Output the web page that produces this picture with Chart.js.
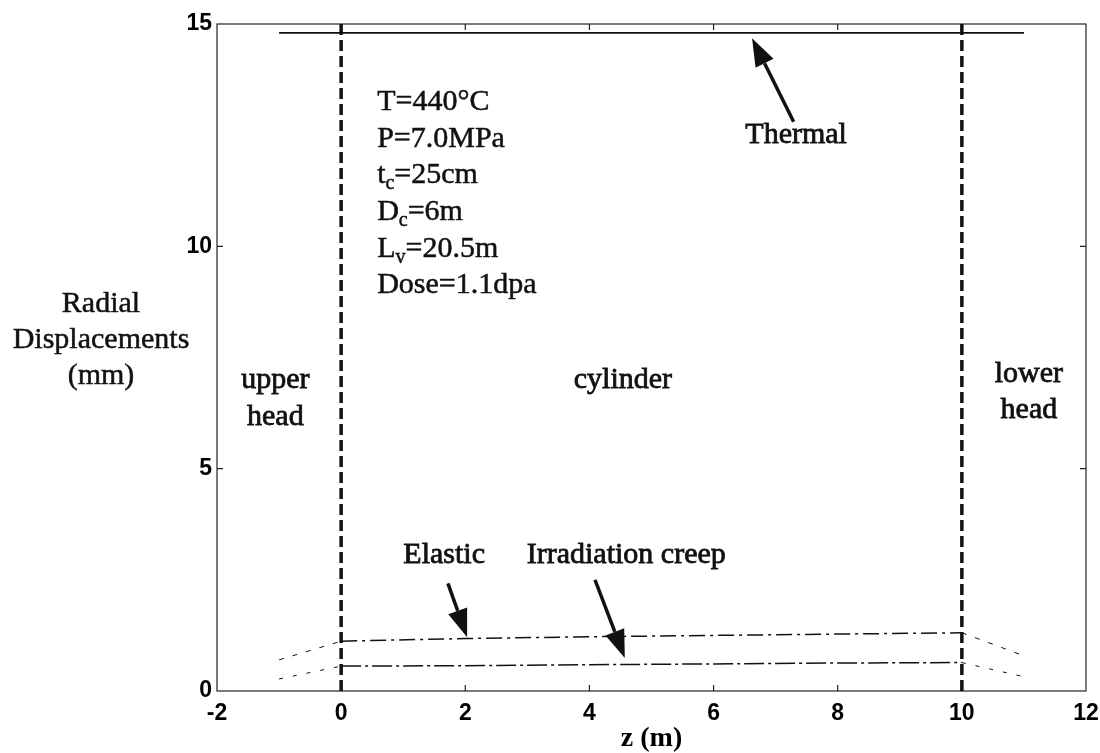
<!DOCTYPE html>
<html><head><meta charset="utf-8">
<script src="https://cdn.jsdelivr.net/npm/chart.js@4.4.0/dist/chart.umd.min.js"></script>
<style>html,body{margin:0;padding:0;background:#fff;}#wrap{width:1100px;height:753px;}</style>
</head><body><div id="wrap"><canvas id="c" width="1100" height="753"></canvas></div>
<script>
// ---- data ----
const zPositions = [-1, 0, 2, 4, 6, 8, 10, 11];
const thermal = [14.8, 14.8, 14.8, 14.8, 14.8, 14.8, 14.8, 14.8];
const elastic = [0.70, 1.12, 1.18, 1.22, 1.25, 1.28, 1.31, 0.79];
const irradiationCreep = [0.27, 0.56, 0.57, 0.59, 0.61, 0.63, 0.64, 0.32];
const headBoundaries = [0, 10];
const xTicks = [-2, 0, 2, 4, 6, 8, 10, 12];
const yTicks = [0, 5, 10, 15];
const xMin = -2, xMax = 12, yMin = 0, yMax = 15;

// annotations in data coordinates
const paramLines = [
  {z: 0.58, y: 13.06, parts: [['T=440°C', 0]]},
  {z: 0.58, y: 12.23, parts: [['P=7.0MPa', 0]]},
  {z: 0.58, y: 11.42, parts: [['t', 0], ['c', 1], ['=25cm', 0]]},
  {z: 0.58, y: 10.59, parts: [['D', 0], ['c', 1], ['=6m', 0]]},
  {z: 0.58, y: 9.76, parts: [['L', 0], ['v', 1], ['=20.5m', 0]]},
  {z: 0.58, y: 8.95, parts: [['Dose=1.1dpa', 0]]}
];
const labels = [
  {text: 'Thermal', z: 7.33, y: 12.32, align: 'center'},
  {text: 'Elastic', z: 1.66, y: 2.88, align: 'center'},
  {text: 'Irradiation creep', z: 2.99, y: 2.88, align: 'left'},
  {text: 'upper', z: -1.06, y: 6.81, align: 'center'},
  {text: 'head', z: -1.06, y: 5.98, align: 'center'},
  {text: 'cylinder', z: 4.54, y: 6.81, align: 'center'},
  {text: 'lower', z: 11.08, y: 6.96, align: 'center'},
  {text: 'head', z: 11.08, y: 6.13, align: 'center'}
];
const arrows = [
  {from: [7.29, 12.80], to: [6.62, 14.68]},
  {from: [1.72, 2.42], to: [2.03, 1.21]},
  {from: [4.09, 2.50], to: [4.57, 0.74]}
];
const yTitleLines = ['Radial', 'Displacements', '(mm)'];

const pts = arr => zPositions.map((z, i) => ({x: z, y: arr[i]}));
const inHead = ctx => ctx.p0.parsed.x < 0 || ctx.p1.parsed.x > 10;

const serif = '"Liberation Serif", "Times New Roman", serif';
const INK = '#111';

function inkText(ctx, t, px, py) {
  ctx.fillText(t, px, py);
  ctx.strokeText(t, px, py);
}

const decor = {
  id: 'decor',
  beforeDatasetsDraw(chart) {
    const {ctx, chartArea: a, scales: {x, y}} = chart;
    ctx.save();
    ctx.strokeStyle = '#222';
    ctx.lineWidth = 1.2;
    ctx.strokeRect(a.left, a.top, a.right - a.left, a.bottom - a.top);
    ctx.beginPath();
    [2, 4, 6, 8].forEach(v => {
      const px = x.getPixelForValue(v);
      ctx.moveTo(px, a.bottom); ctx.lineTo(px, a.bottom - 6);
      ctx.moveTo(px, a.top); ctx.lineTo(px, a.top + 6);
    });
    [5, 10].forEach(v => {
      const py = y.getPixelForValue(v);
      ctx.moveTo(a.left, py); ctx.lineTo(a.left + 6, py);
      ctx.moveTo(a.right, py); ctx.lineTo(a.right - 6, py);
    });
    ctx.stroke();
    ctx.restore();
  },
  afterDatasetsDraw(chart) {
    const {ctx, chartArea: a, scales: {x, y}} = chart;
    ctx.save();
    ctx.fillStyle = INK;
    ctx.strokeStyle = INK;
    ctx.lineWidth = 0.5;
    ctx.textBaseline = 'alphabetic';
    // parameter block
    paramLines.forEach(l => {
      let px = x.getPixelForValue(l.z);
      const py = y.getPixelForValue(l.y);
      ctx.textAlign = 'left';
      l.parts.forEach(([t, sub]) => {
        ctx.font = (sub ? '20px ' : '30px ') + serif;
        inkText(ctx, t, px, py + (sub ? 6 : 0));
        px += ctx.measureText(t).width;
      });
    });
    ctx.font = '30px ' + serif;
    ctx.lineWidth = 0.8;
    labels.forEach(l => {
      ctx.textAlign = l.align;
      inkText(ctx, l.text, x.getPixelForValue(l.z), y.getPixelForValue(l.y));
    });
    // arrows
    ctx.lineWidth = 3.5;
    arrows.forEach(ar => {
      const x0 = x.getPixelForValue(ar.from[0]), y0 = y.getPixelForValue(ar.from[1]);
      const x1 = x.getPixelForValue(ar.to[0]), y1 = y.getPixelForValue(ar.to[1]);
      const ang = Math.atan2(y1 - y0, x1 - x0);
      const hl = 28, hw = 10;
      const bx = x1 - hl * Math.cos(ang), by = y1 - hl * Math.sin(ang);
      ctx.beginPath(); ctx.moveTo(x0, y0); ctx.lineTo(bx, by); ctx.stroke();
      ctx.beginPath();
      ctx.moveTo(x1, y1);
      ctx.lineTo(bx + hw * Math.sin(ang), by - hw * Math.cos(ang));
      ctx.lineTo(bx - hw * Math.sin(ang), by + hw * Math.cos(ang));
      ctx.closePath(); ctx.fill();
    });
    ctx.restore();
  },
  afterDraw(chart) {
    const {ctx, chartArea: a} = chart;
    ctx.save();
    ctx.fillStyle = INK;
    ctx.strokeStyle = INK;
    ctx.lineWidth = 0.5;
    ctx.font = '30px ' + serif;
    ctx.textAlign = 'center';
    ctx.textBaseline = 'alphabetic';
    const cx = a.left - 116;
    yTitleLines.forEach((t, i) => inkText(ctx, t, cx, a.top + 288 + i * 36));
    ctx.restore();
  }
};

const tickFont = {family: '"Liberation Sans", Arial, sans-serif', size: 23, weight: 'bold'};

new Chart(document.getElementById('c'), {
  type: 'line',
  data: {
    datasets: [
      {label: 'Thermal', data: pts(thermal), borderColor: INK, borderWidth: 1.6, pointRadius: 0, tension: 0},
      {label: 'Elastic', data: pts(elastic), borderColor: INK, borderWidth: 1.5, pointRadius: 0, tension: 0,
        borderDash: [16, 5, 3, 5],
        segment: {borderDash: c => inHead(c) ? [5, 9] : undefined, borderWidth: c => inHead(c) ? 1 : undefined}},
      {label: 'Irradiation creep', data: pts(irradiationCreep), borderColor: INK, borderWidth: 1.5, pointRadius: 0, tension: 0,
        borderDash: [20, 4, 3, 4],
        segment: {borderDash: c => inHead(c) ? [4, 10] : undefined, borderWidth: c => inHead(c) ? 1 : undefined}},
      ...headBoundaries.map(b => ({label: 'boundary ' + b, data: [{x: b, y: yMin}, {x: b, y: yMax}],
        borderColor: INK, borderWidth: 3.5, borderDash: [11, 5], pointRadius: 0}))
    ]
  },
  options: {
    responsive: false,
    devicePixelRatio: 1,
    animation: false,
    layout: {padding: {top: 24, right: 14, left: 0, bottom: 0}},
    plugins: {legend: {display: false}, tooltip: {enabled: false}},
    scales: {
      x: {
        type: 'linear', min: xMin, max: xMax,
        afterBuildTicks: s => { s.ticks = xTicks.map(v => ({value: v})); },
        afterFit: s => { s.height = 62; s.paddingLeft = 0; s.paddingRight = 0; },
        grid: {display: false, drawTicks: false},
        border: {display: false},
        ticks: {font: tickFont, color: '#000', padding: 9, maxRotation: 0},
        title: {display: true, text: 'z (m)', color: '#000',
          font: {family: serif, size: 28, weight: 'bold', lineHeight: 1}, padding: {top: 0, bottom: 0}}
      },
      y: {
        type: 'linear', min: yMin, max: yMax,
        afterBuildTicks: s => { s.ticks = yTicks.map(v => ({value: v})); },
        afterFit: s => { s.width = 217; s.paddingTop = 0; s.paddingBottom = 0; },
        grid: {display: false, drawTicks: false},
        border: {display: false},
        ticks: {font: tickFont, color: '#000', padding: 5}
      }
    }
  },
  plugins: [decor]
});
</script>
</body></html>
